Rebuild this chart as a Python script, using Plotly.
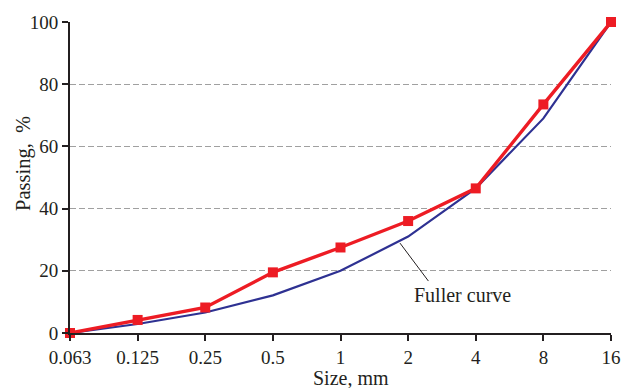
import plotly.graph_objects as go

sizes = ["0.063", "0.125", "0.25", "0.5", "1", "2", "4", "8", "16"]
passing = [0, 4.2, 8.2, 19.5, 27.5, 36, 46.5, 73.5, 100]
fuller = [0, 2.9, 6.6, 12.1, 20, 31, 46.5, 69, 100]
y_ticks = [0, 20, 40, 60, 80, 100]

FONT = "Liberation Serif"
INK = "#231F20"
W, H = 624, 388
L, R, T, B = 70, 13, 22, 55
pw = W - L - R
ph = H - T - B

fig = go.Figure()
fig.add_trace(go.Scatter(
    x=sizes, y=fuller, mode="lines",
    line=dict(color="#2E3192", width=2.2),
    cliponaxis=False, showlegend=False,
))
fig.add_trace(go.Scatter(
    x=sizes, y=passing, mode="lines+markers",
    line=dict(color="#ED1C24", width=3.4),
    marker=dict(symbol="square", size=10, color="#ED1C24"),
    cliponaxis=False, showlegend=False,
))

fig.add_annotation(
    x=5.81, y=12.2, xref="x", yref="y",
    xanchor="center", yanchor="middle",
    text="Fuller curve", showarrow=False,
    font=dict(family=FONT, size=20, color=INK),
)
fig.add_shape(
    type="line", xref="x", yref="y",
    x0=4.88, y0=28.9, x1=5.3, y1=16.7,
    line=dict(color=INK, width=1),
)
fig.add_annotation(
    x=(351 - L) / pw, y=(H - B - 378) / ph, xref="paper", yref="paper",
    xanchor="center", yanchor="middle",
    showarrow=False, text="Size, mm",
    font=dict(family=FONT, size=20, color=INK),
)
fig.add_annotation(
    x=(23 - L) / pw, y=(H - B - 164) / ph, xref="paper", yref="paper",
    xanchor="center", yanchor="middle",
    showarrow=False, text="Passing,  %", textangle=-90,
    font=dict(family=FONT, size=20.5, color=INK),
)

fig.update_layout(
    width=W, height=H,
    margin=dict(l=L, r=R, t=T, b=B, autoexpand=False),
    plot_bgcolor="white", paper_bgcolor="white",
    font=dict(family=FONT, size=19, color=INK),
    xaxis=dict(
        type="category", range=[0, 8], automargin=False,
        showline=True, linecolor=INK, linewidth=2,
        ticks="outside", ticklen=6, tickwidth=1.5, tickcolor=INK,
        showgrid=False, zeroline=False,
    ),
    yaxis=dict(
        range=[0, 100], tickvals=y_ticks, automargin=False,
        showline=True, linecolor=INK, linewidth=2,
        ticks="outside", ticklen=6, tickwidth=1.5, tickcolor=INK,
        showgrid=True, gridcolor="#A0A0A0", gridwidth=1.2, griddash="6px,3px",
        zeroline=False,
    ),
)

fig.write_html(
    "out.html",
    config={"displayModeBar": False},
    post_script="document.body.style.margin='0';document.body.style.overflow='hidden';",
)
